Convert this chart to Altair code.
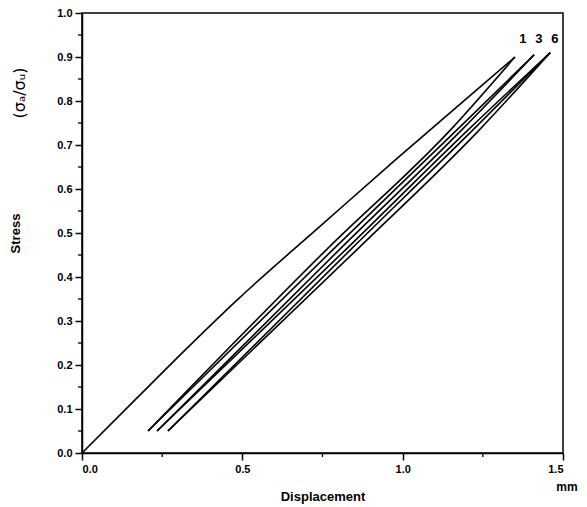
import altair as alt
import pandas as pd

# Loading curve (first loading)
load_x = [0.0, 0.17, 0.33, 0.49, 0.75, 0.98, 1.2, 1.35]
load_y = [0.0, 0.124, 0.24, 0.352, 0.52, 0.668, 0.806, 0.9]

# Cycle lines: stress levels and displacements
cyc_y_common = [0.05, 0.464, 0.735]
cycle_names = ["u1", "r1", "u3", "r3", "u6", "r6"]
cycle_x = {
    "u1": [0.206, 0.765, 1.15, 1.35],
    "r1": [0.206, 0.785, 1.17, 1.41],
    "u3": [0.234, 0.805, 1.185, 1.41],
    "r3": [0.234, 0.825, 1.205, 1.46],
    "u6": [0.268, 0.84, 1.22, 1.46],
    "r6": [0.268, 0.86, 1.24, 1.46],
}
cycle_top = {"u1": 0.9, "r1": 0.905, "u3": 0.905, "r3": 0.91, "u6": 0.91, "r6": 0.91}

label_text = ["1", "3", "6"]
label_x = [1.375, 1.425, 1.475]
label_y = [0.94, 0.94, 0.94]

x_ticks = [0.0, 0.5, 1.0, 1.5]
x_minor = [0.25, 0.75, 1.25]
y_ticks = [round(i * 0.1, 1) for i in range(11)]
y_minor = [round(0.05 + i * 0.1, 2) for i in range(10)]

rows = []
for i, (a, b) in enumerate(zip(load_x, load_y)):
    rows.append({"x": a, "y": b, "s": "load", "o": i})
for name in cycle_names:
    ys = cyc_y_common + [cycle_top[name]]
    for i, (a, b) in enumerate(zip(cycle_x[name], ys)):
        rows.append({"x": a, "y": b, "s": name, "o": i})
df = pd.DataFrame(rows)

FONT = "Liberation Sans"
H = 440

xscale = alt.Scale(domain=[0, 1.5], nice=False, zero=False)
yscale = alt.Scale(domain=[0, 1.0], nice=False, zero=False)

lines = alt.Chart(df).mark_line(color="black", strokeWidth=1.6, interpolate="monotone").encode(
    x=alt.X("x:Q", scale=xscale, axis=alt.Axis(
        values=x_ticks, format=".1f", title="Displacement", tickSize=7, tickWidth=1.5,
        domainWidth=1.5, domainColor="black", tickColor="black", labelColor="black",
        labelFont=FONT, labelFontWeight="bold", labelFontSize=11, labelPadding=3,
        titleFont=FONT, titleFontWeight="bold", titleFontSize=13, titlePadding=16,
        titleColor="black", grid=False)),
    y=alt.Y("y:Q", scale=yscale, axis=alt.Axis(
        values=y_ticks, format=".1f", title="Stress", tickSize=7, tickWidth=1.5,
        domainWidth=1.5, domainColor="black", tickColor="black", labelColor="black",
        labelFont=FONT, labelFontWeight="bold", labelFontSize=11, labelPadding=3,
        titleFont=FONT, titleFontWeight="bold", titleFontSize=13, titleX=-60,
        titleColor="black", grid=False)),
    detail="s:N",
    order="o:Q",
)

xm_df = pd.DataFrame({"x": x_minor})
xminor = alt.Chart(xm_df).mark_rule(color="black", strokeWidth=1.3, clip=False).encode(
    x=alt.X("x:Q", scale=xscale), y=alt.value(H), y2=alt.value(H + 4))

ym_df = pd.DataFrame({"y": y_minor})
yminor = alt.Chart(ym_df).mark_rule(color="black", strokeWidth=1.3, clip=False).encode(
    y=alt.Y("y:Q", scale=yscale), x=alt.value(-4), x2=alt.value(0))

lab_df = pd.DataFrame({"x": label_x, "y": label_y, "t": label_text})
labels = alt.Chart(lab_df).mark_text(font=FONT, fontWeight="bold", fontSize=13, color="black").encode(
    x=alt.X("x:Q", scale=xscale), y=alt.Y("y:Q", scale=yscale), text="t:N")

sig_df = pd.DataFrame({"t": ["(σₐ/σᵤ)"]})
sigma = alt.Chart(sig_df).mark_text(font="DejaVu Sans", fontSize=16, angle=270, color="black").encode(
    x=alt.value(-62), y=alt.value(80), text="t:N")

mm_df = pd.DataFrame({"t": ["mm"]})
mm = alt.Chart(mm_df).mark_text(font=FONT, fontWeight="bold", fontSize=12, color="black").encode(
    x=alt.value(485), y=alt.value(474), text="t:N")

chart = alt.layer(lines, xminor, yminor, labels, sigma, mm).properties(
    width=481, height=H,
    autosize=alt.AutoSizeParams(type="none"),
    padding={"left": 82, "top": 13, "right": 24, "bottom": 54},
).configure_view(stroke="black", strokeWidth=1.5)

chart.save("out.html", embed_options={"renderer": "svg", "actions": False})
